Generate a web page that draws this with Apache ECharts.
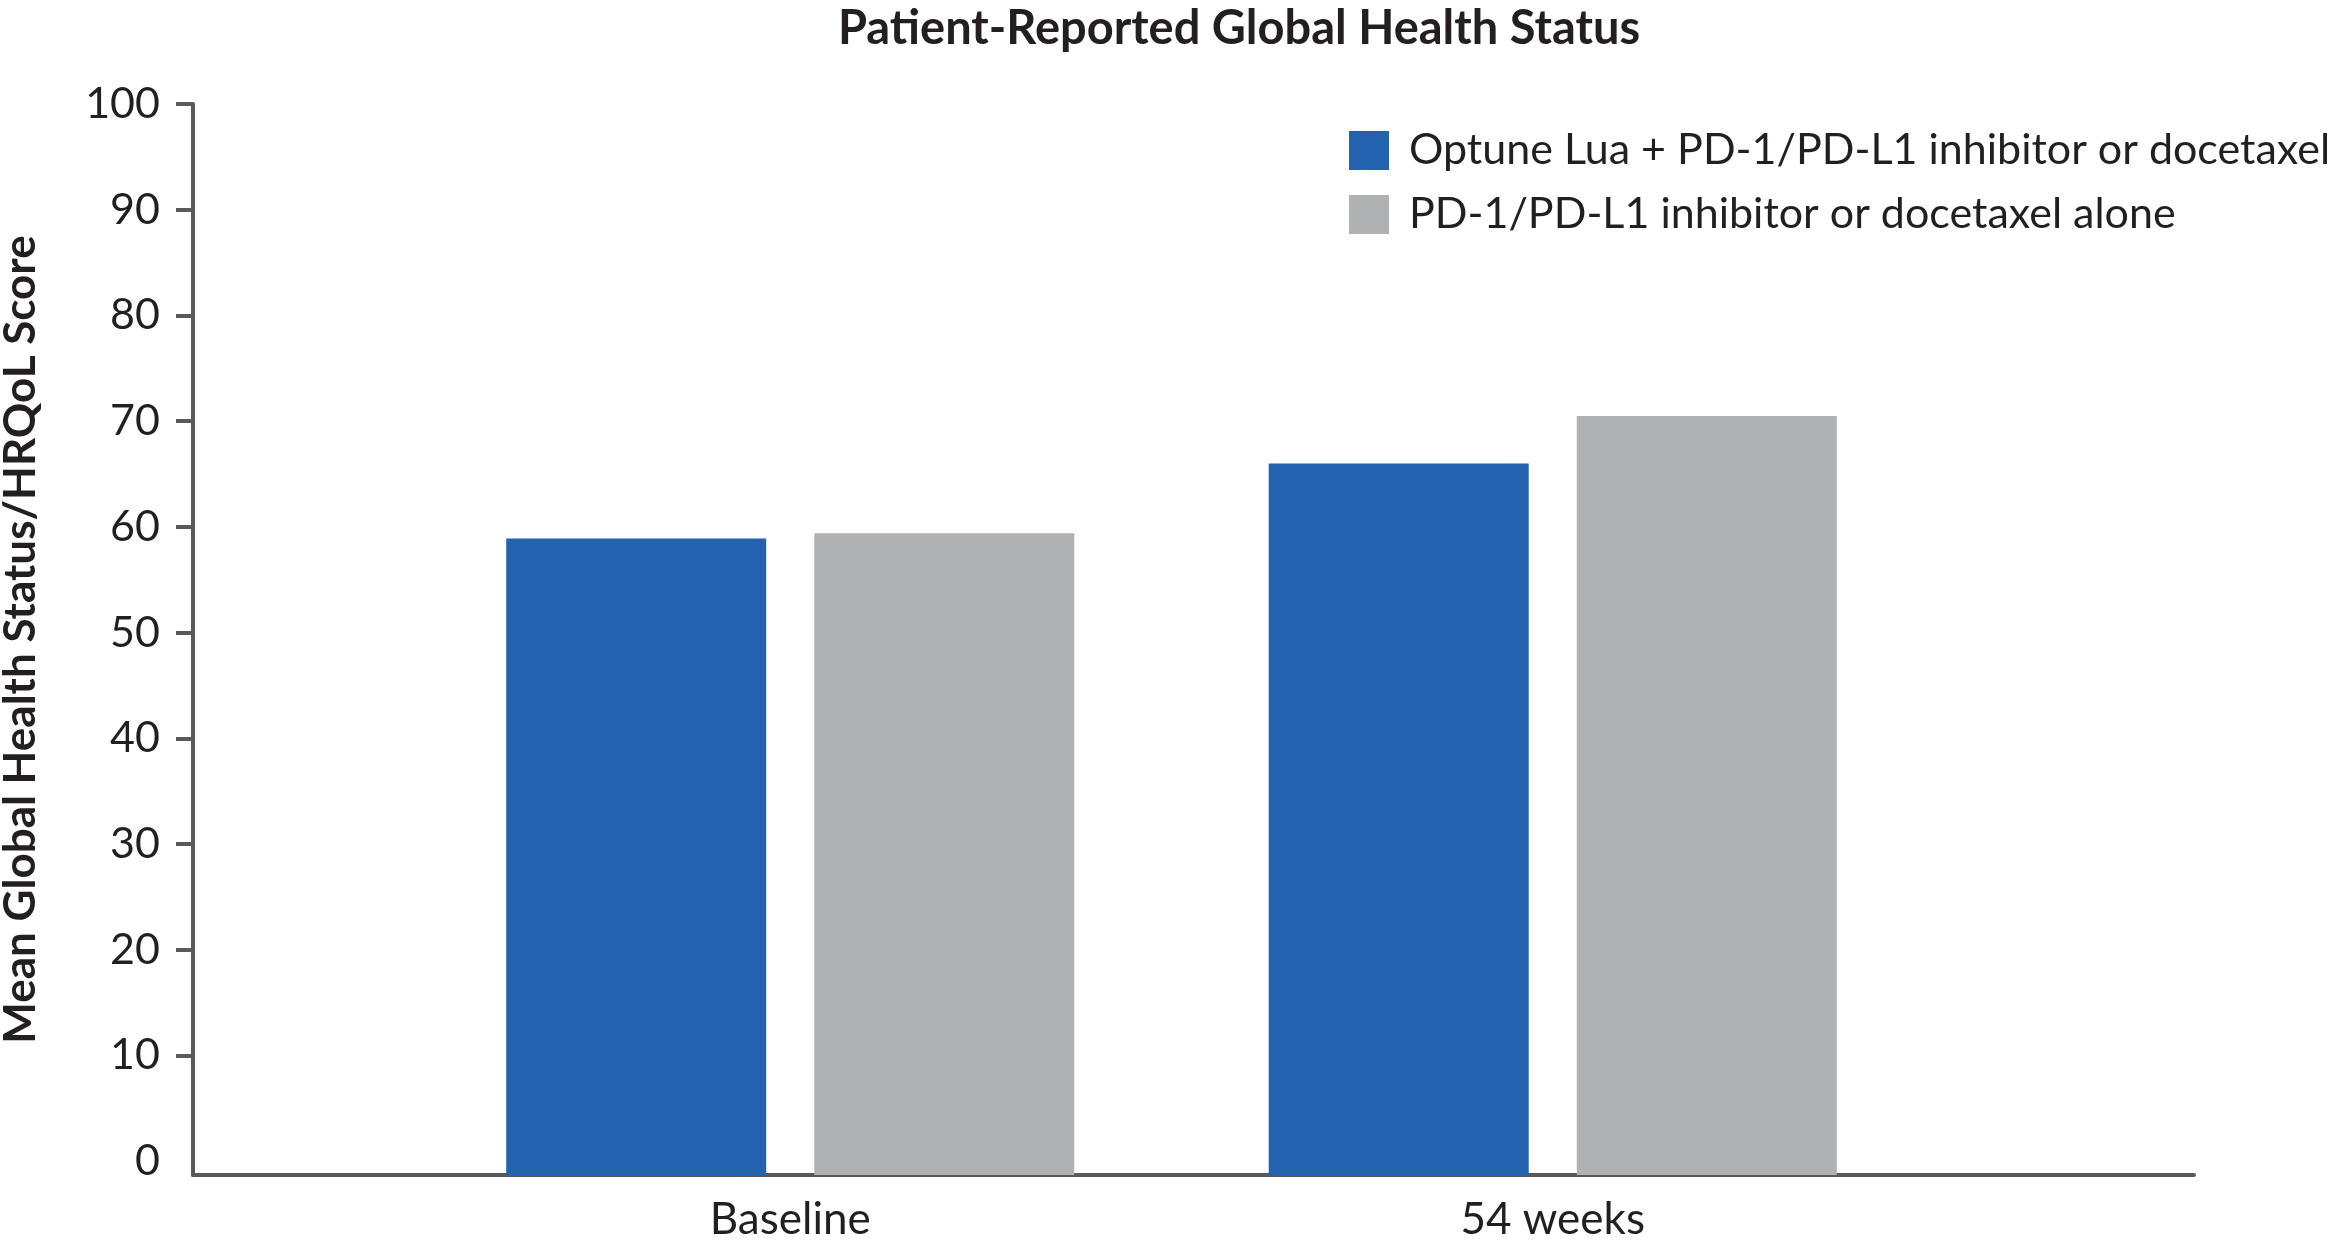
<!DOCTYPE html>
<html>
<head>
<meta charset="utf-8">
<script src="https://cdn.jsdelivr.net/npm/echarts@6.0.0/dist/echarts.min.js"></script>
<style>
  html, body { margin: 0; padding: 0; background: #fff; }
  #chart { width: 2335px; height: 1244px; }
</style>
</head>
<body>
<div id="chart"></div>
<script>
// data
const categories = ['Baseline', '54 weeks'];
const seriesNames = [
  'Optune Lua + PD-1/PD-L1 inhibitor or docetaxel',
  'PD-1/PD-L1 inhibitor or docetaxel alone'
];
const optuneValues = [58.9, 66.0];
const aloneValues = [59.4, 70.5];
const yLabelValues = [0, 10, 20, 30, 40, 50, 60, 70, 80, 90, 100];
const yTickValues = [10, 20, 30, 40, 50, 60, 70, 80, 90, 100];

const textColor = '#231f20';
const axisColor = '#58595b';
const font = 'Lato';
// axis line sits a little below the zero value
const axisFloor = -1.3;

const chart = echarts.init(document.getElementById('chart'));

const option = {
  animation: false,
  backgroundColor: '#fff',
  title: {
    text: 'Patient-Reported Global Health Status',
    left: 1234,
    textAlign: 'center',
    top: 0,
    textStyle: { fontFamily: font, fontWeight: 'bold', fontSize: 47, color: textColor }
  },
  legend: {
    orient: 'vertical',
    left: 1344,
    top: 124,
    itemWidth: 40,
    itemHeight: 39,
    itemGap: 21,
    icon: 'rect',
    data: seriesNames,
    textStyle: { fontFamily: font, fontSize: 43, color: textColor, padding: [0, 0, 0, 15] }
  },
  grid: [
    // frame: axis lines, ticks, y labels
    { left: 193, right: 141, top: 104, bottom: 69, outerBoundsMode: 'none', containLabel: false },
    // bars
    { left: 409, width: 1525, top: 104, bottom: 69, outerBoundsMode: 'none', containLabel: false }
  ],
  xAxis: [
    {
      gridIndex: 0,
      type: 'value',
      min: 0,
      max: 1,
      axisLine: { show: true, onZero: false, lineStyle: { color: axisColor, width: 4 } },
      axisTick: { show: false },
      axisLabel: { show: false },
      splitLine: { show: false }
    },
    {
      gridIndex: 1,
      type: 'category',
      data: categories,
      axisLine: { show: false },
      axisTick: { show: false },
      axisLabel: { fontFamily: font, fontSize: 44, color: textColor, margin: 23 }
    }
  ],
  yAxis: [
    {
      gridIndex: 0,
      type: 'value',
      min: axisFloor,
      max: 100,
      name: 'Mean Global Health Status/HRQoL Score',
      nameLocation: 'middle',
      nameGap: 150,
      nameRotate: 90,
      nameTextStyle: { fontFamily: font, fontWeight: 'bold', fontSize: 44, color: textColor },
      axisLine: { show: true, onZero: false, lineStyle: { color: axisColor, width: 4 } },
      axisTick: { show: true, length: 17, customValues: yTickValues, lineStyle: { color: axisColor, width: 4 } },
      axisLabel: {
        customValues: yLabelValues,
        fontFamily: font, fontSize: 43, color: textColor, margin: 33,
        padding: [10, 0, 0, 0]
      },
      splitLine: { show: false }
    },
    {
      gridIndex: 1,
      type: 'value',
      min: axisFloor,
      max: 100,
      startValue: axisFloor,
      show: false
    }
  ],
  series: [
    {
      name: seriesNames[0],
      type: 'bar',
      xAxisIndex: 1,
      yAxisIndex: 1,
      barWidth: 260,
      barGap: '18.5%',
      itemStyle: { color: '#2262ae' },
      data: optuneValues
    },
    {
      name: seriesNames[1],
      type: 'bar',
      xAxisIndex: 1,
      yAxisIndex: 1,
      barWidth: 260,
      barGap: '18.5%',
      itemStyle: { color: '#b0b1b3' },
      data: aloneValues
    }
  ]
};

chart.setOption(option);
window.addEventListener('resize', () => chart.resize());
</script>
</body>
</html>
